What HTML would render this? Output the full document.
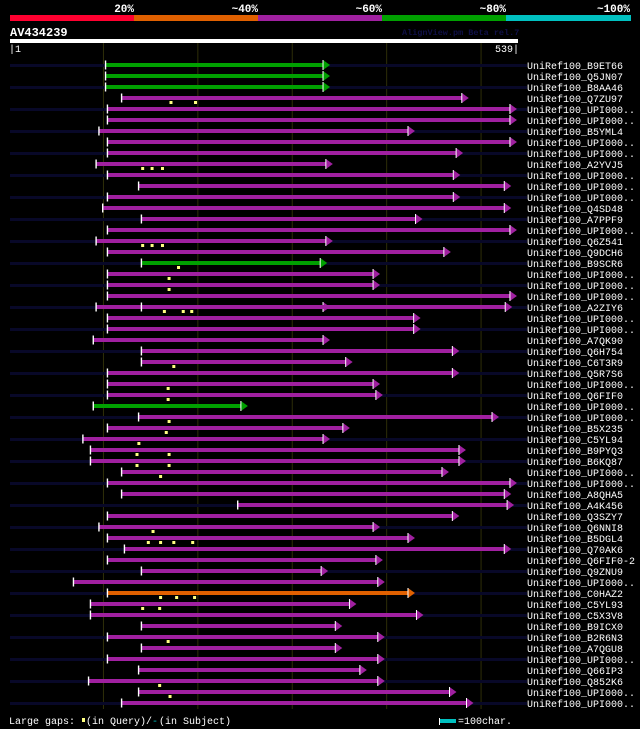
<!DOCTYPE html>
<html><head><meta charset="utf-8"><style>
html,body{margin:0;padding:0;background:#000;}
svg{display:block;font-family:"Liberation Mono",monospace;}
</style></head><body>
<svg width="640" height="729" viewBox="0 0 640 729" id="chart">
<rect x="0" y="0" width="640" height="729" fill="#000"/>
<g>
<text x="134" y="12" fill="#fff" font-size="11" font-weight="bold" text-anchor="end">20%</text>
<text x="258" y="12" fill="#fff" font-size="11" font-weight="bold" text-anchor="end">~40%</text>
<text x="382" y="12" fill="#fff" font-size="11" font-weight="bold" text-anchor="end">~60%</text>
<text x="506" y="12" fill="#fff" font-size="11" font-weight="bold" text-anchor="end">~80%</text>
<text x="630" y="12" fill="#fff" font-size="11" font-weight="bold" text-anchor="end">~100%</text>
<rect x="10" y="15" width="124" height="6" fill="#ff0030"/>
<rect x="134" y="15" width="124" height="6" fill="#e06000"/>
<rect x="258" y="15" width="124" height="6" fill="#a020a0"/>
<rect x="382" y="15" width="124" height="6" fill="#00a000"/>
<rect x="506" y="15" width="125" height="6" fill="#00c0c0"/>
</g>
<text x="10" y="36" fill="#fff" font-size="12" font-weight="bold">AV434239</text>
<text x="402" y="35" fill="#101048" font-size="8.5" font-weight="bold">AlignView.pm Beta rel.7</text>
<rect x="10" y="39" width="508" height="4" fill="#fff"/>
<text x="9" y="52" fill="#fff" font-size="10">|1</text>
<text x="519" y="52" fill="#fff" font-size="10" text-anchor="end">539|</text>
<g id="grid"></g>
<g id="rows"></g>
<g>
<text x="9" y="724" fill="#fff" font-size="10">Large gaps:</text>
<rect x="82" y="718" width="3" height="4" fill="#ffff80"/>
<text x="86" y="724" fill="#fff" font-size="10">(in Query)/</text>
<text x="152" y="724" fill="#00c0c0" font-size="10">-</text>
<text x="159" y="724" fill="#fff" font-size="10">(in Subject)</text>
<rect x="439" y="718" width="1" height="7" fill="#fff"/>
<rect x="440" y="719" width="16" height="4" fill="#00c0c0"/>
<text x="458" y="724" fill="#fff" font-size="10">=100char.</text>
</g>
</svg>
<script>
const names=["B9ET66","Q5JN07","B8AA46","Q7ZU97","UPI000..","UPI000..","B5YML4","UPI000..","UPI000..","A2YVJ5","UPI000..","UPI000..","UPI000..","Q4SD48","A7PPF9","UPI000..","Q6Z541","Q9DCH6","B9SCR6","UPI000..","UPI000..","UPI000..","A2ZIY6","UPI000..","UPI000..","A7QK90","Q6H754","C6T3R9","Q5R7S6","UPI000..","Q6FIF0","UPI000..","UPI000..","B5X235","C5YL94","B9PYQ3","B6KQ87","UPI000..","UPI000..","A8QHA5","A4K456","Q3SZY7","Q6NNI8","B5DGL4","Q70AK6","Q6FIF0-2","Q9ZNU9","UPI000..","C0HAZ2","C5YL93","C5X3V8","B9ICX0","B2R6N3","A7QGU8","UPI000..","Q66IP3","Q852K6","UPI000..","UPI000.."];
const starts=[102,102,102,119,104,104,95,104,104,92,104,137,104,99,140,104,92,104,140,104,104,104,92,104,104,89,140,140,104,104,104,89,137,104,78,86,86,119,104,119,242,104,95,104,122,104,140,68,104,86,86,140,104,140,104,137,84,137,119];
const ends=[340,340,340,487,538,538,430,538,481,343,478,532,478,532,438,538,343,468,337,393,393,538,340,436,436,340,477,364,477,393,396,253,519,361,340,484,484,466,538,532,535,477,393,430,532,396,338,398,430,368,439,353,398,353,398,379,398,474,492];
const identity=["80","80","80","60","60","60","60","60","60","60","60","60","60","60","60","60","60","60","80","60","60","60","60","60","60","60","60","60","60","60","60","80","60","60","60","60","60","60","60","60","60","60","60","60","60","60","60","60","40","60","60","60","60","60","60","60","60","60","60"];
const gapMarks=[[],[],[],[171,197],[],[],[],[],[],[141,151,162],[],[],[],[],[],[],[141,151,162],[],[179],[169],[169],[],[164,184,193],[],[],[],[],[174],[],[168],[168],[],[169],[166],[137],[135,169],[135,169],[160],[],[],[],[],[152],[147,160,174,194],[],[],[],[],[160,177,196],[141,159],[],[],[168],[],[],[],[159],[170],[]];
const extraRow=[23];
const extraStart=[140];
const extraEnd=[533];
const colorOf={"40":"#e06000","60":"#a020a0","80":"#00a000"};
const gridChars=[100,200,300,400,500];
const NS="http://www.w3.org/2000/svg";
function xs(q){return 10+(q-1)*0.944;}
function ys(i){return 65+i*11;}
function mk(tag,attrs,parent){const e=document.createElementNS(NS,tag);for(const k in attrs)e.setAttribute(k,attrs[k]);parent.appendChild(e);return e;}
const grid=document.getElementById('grid');
gridChars.forEach((c,i)=>{
  const l=mk('line',{x1:xs(c),x2:xs(c),y1:43,y2:709,stroke:'#2e2e08','stroke-width':1},grid);
  
  
});
const rows=document.getElementById('rows');
function hsp(g,s,e,y,col){
  const x1=xs(s),x2=xs(e);
  const b=mk('rect',{x:x1,y:y-2,width:Math.max(0,x2-x1-6),height:4,fill:col},g);
  
  
  const a=mk('polygon',{points:(x2-7)+','+(y-5)+' '+x2+','+y+' '+(x2-7)+','+(y+5),fill:col},g);
  
  
  const al=mk('line',{x1:x2-7,x2:x2-7,y1:y-5,y2:y+5,stroke:'#fff','stroke-width':1},g);
  
  
  const t=mk('rect',{x:x1-0.5,y:y-4.5,width:1.4,height:9,fill:'#fff'},g);
  
  
}
names.forEach((n,i)=>{
  const y=ys(i);
  const g=mk('g',{},rows);
  
  
  if(i%2===0){
    const bg=mk('rect',{x:10,y:y-1,width:517,height:3,fill:'#080828'},g);
    
    
  }
  const col=colorOf[identity[i]];
  hsp(g,starts[i],ends[i],y,col);
  extraRow.forEach((r,k)=>{ if(r===i+1) hsp(g,extraStart[k],extraEnd[k],y,col); });
  gapMarks[i].forEach(q=>{
    const m=mk('rect',{x:xs(q)-1,y:y+3,width:3,height:3,fill:'#ffff80'},g);
    
    
  });
  const t=mk('text',{x:527,y:y+4,fill:'#fff','font-size':10},g);
  t.textContent='UniRef100_'+n;
  
  
});
</script>
</body></html>
